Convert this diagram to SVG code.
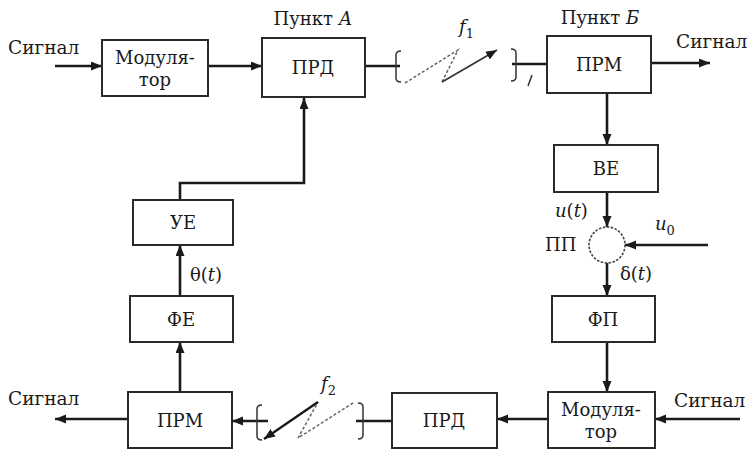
<svg xmlns="http://www.w3.org/2000/svg" width="751" height="451" viewBox="0 0 751 451">
<defs>
<marker id="arr" markerUnits="userSpaceOnUse" markerWidth="12" markerHeight="10" refX="11" refY="4.5" orient="auto">
<path d="M0,0 L11,4.5 L0,9 z" fill="#1a1a1a"/>
</marker>
</defs>
<style>
.box{fill:#fff;stroke:#2a2a2a;stroke-width:2}
.t{font-family:'DejaVu Serif','Liberation Serif',serif;font-size:18px;fill:#1a1a1a}
.s{font-size:18.5px}
.c{text-anchor:middle}
.i{font-style:italic}
.w{fill:none;stroke:#1a1a1a;stroke-width:2.6}
.d{fill:none;stroke:#666;stroke-width:1.5;stroke-dasharray:3 2}
.br{fill:none;stroke:#333;stroke-width:1.5}
.sub{font-size:13px;font-style:normal}
</style>
<rect width="751" height="451" fill="#fff"/>

<g id="connectors">
<line class="w" x1="55" y1="66" x2="102" y2="66" marker-end="url(#arr)"/>
<line class="w" x1="208" y1="66" x2="262" y2="66" marker-end="url(#arr)"/>
<line class="w" x1="365" y1="66" x2="400" y2="66"/>
<line class="w" x1="512" y1="64" x2="547" y2="64"/>
<line class="w" x1="651" y1="63" x2="710" y2="63" marker-end="url(#arr)"/>
<line class="w" x1="607" y1="93" x2="607" y2="145" marker-end="url(#arr)"/>
<line class="w" x1="607" y1="192" x2="607" y2="227" marker-end="url(#arr)"/>
<line class="w" x1="708" y1="245" x2="625" y2="245" marker-end="url(#arr)"/>
<line class="w" x1="607" y1="263" x2="607" y2="296" marker-end="url(#arr)"/>
<line class="w" x1="607" y1="342" x2="607" y2="392" marker-end="url(#arr)"/>
<line class="w" x1="740" y1="419" x2="655" y2="419" marker-end="url(#arr)"/>
<line class="w" x1="548" y1="419" x2="497" y2="419" marker-end="url(#arr)"/>
<line class="w" x1="356" y1="421" x2="392" y2="421"/>
<line class="w" x1="268" y1="421" x2="232" y2="421" marker-end="url(#arr)"/>
<line class="w" x1="128" y1="419" x2="55" y2="419" marker-end="url(#arr)"/>
<line class="w" x1="180" y1="392" x2="180" y2="342" marker-end="url(#arr)"/>
<line class="w" x1="180" y1="296" x2="180" y2="245" marker-end="url(#arr)"/>
<polyline class="w" points="180,200 180,183 304,183 304,98" marker-end="url(#arr)"/>
</g>

<g id="link-f1">
<path class="br" d="M401,51 q-5,0 -5,4 v23 q0,4 5,4"/>
<path class="br" d="M511,49 q5,0 5,4 v24 q0,4 -5,4"/>
<polyline class="d" points="405,83 458,50 442,82"/>
<line x1="442" y1="82" x2="497" y2="50" stroke="#333" stroke-width="1.6" marker-end="url(#arr)"/>
<line x1="528" y1="86" x2="532" y2="75" stroke="#333" stroke-width="1.5"/>
<text class="t i" x="459" y="33">f<tspan class="sub" dy="5">1</tspan></text>
</g>

<g id="link-f2">
<path class="br" d="M358,403 q5,0 5,4 v28 q0,4 -5,4"/>
<path class="br" d="M262,405 q-5,0 -5,4 v27 q0,4 5,4"/>
<polyline class="d" points="353,403 298,438 318,402"/>
<line x1="318" y1="402" x2="264" y2="439" stroke="#1a1a1a" stroke-width="2.4" marker-end="url(#arr)"/>
<text class="t i" x="321" y="390">f<tspan class="sub" dy="5">2</tspan></text>
</g>

<g id="sig-in-top"><text class="t s" x="8" y="54">Сигнал</text></g>
<g id="sig-out-top"><text class="t s" x="676" y="48">Сигнал</text></g>
<g id="sig-out-bottom"><text class="t s" x="8" y="405">Сигнал</text></g>
<g id="sig-in-bottom"><text class="t s" x="674" y="407">Сигнал</text></g>

<g id="mod-a">
<rect class="box" x="102" y="40" width="106" height="56"/>
<text class="t c" x="155" y="64">Модуля-</text>
<text class="t c" x="155" y="86">тор</text>
</g>
<g id="prd-a">
<rect class="box" x="262" y="38" width="103" height="59"/>
<text class="t c" x="313" y="74">ПРД</text>
<text class="t c" x="313" y="25">Пункт <tspan class="i">А</tspan></text>
</g>
<g id="prm-b">
<rect class="box" x="547" y="36" width="104" height="57"/>
<text class="t c" x="599" y="71">ПРМ</text>
<text class="t c" x="600" y="24">Пункт <tspan class="i">Б</tspan></text>
</g>
<g id="ve">
<rect class="box" x="554" y="145" width="104" height="47"/>
<text class="t c" x="606" y="175">ВЕ</text>
</g>
<g id="pp">
<circle cx="607" cy="245" r="18" fill="#fff" stroke="#444" stroke-width="1.6" stroke-dasharray="2.5 1.5"/>
<text class="t" x="545" y="251">ПП</text>
<text class="t" x="555" y="217"><tspan class="i">u</tspan>(<tspan class="i">t</tspan>)</text>
<text class="t" x="655" y="230"><tspan class="i">u</tspan><tspan class="sub" dy="5">0</tspan></text>
<text class="t" x="620" y="280">δ(<tspan class="i">t</tspan>)</text>
</g>
<g id="fp">
<rect class="box" x="552" y="296" width="103" height="46"/>
<text class="t c" x="603" y="326">ФП</text>
</g>
<g id="mod-b">
<rect class="box" x="548" y="392" width="107" height="56"/>
<text class="t c" x="601" y="416">Модуля-</text>
<text class="t c" x="601" y="438">тор</text>
</g>
<g id="prd-b">
<rect class="box" x="392" y="393" width="105" height="55"/>
<text class="t c" x="444" y="427">ПРД</text>
</g>
<g id="prm-a">
<rect class="box" x="128" y="392" width="104" height="56"/>
<text class="t c" x="180" y="427">ПРМ</text>
</g>
<g id="fe">
<rect class="box" x="130" y="296" width="103" height="46"/>
<text class="t c" x="181" y="326">ФЕ</text>
</g>
<g id="ue">
<rect class="box" x="133" y="200" width="100" height="45"/>
<text class="t c" x="183" y="229">УЕ</text>
<text class="t" x="190" y="281">θ(<tspan class="i">t</tspan>)</text>
</g>
</svg>
